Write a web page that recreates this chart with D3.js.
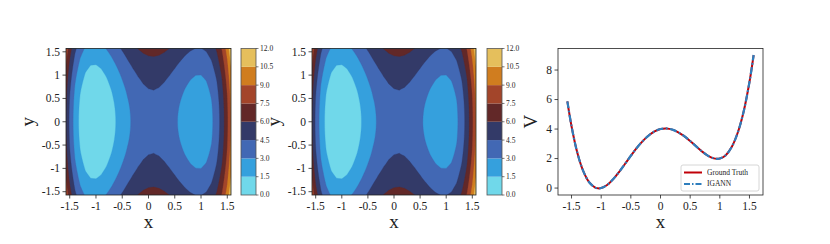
<!DOCTYPE html>
<html>
<head>
<meta charset="utf-8">
<script src="https://cdn.jsdelivr.net/npm/d3@7"></script>
<style>
  body { margin: 0; background: #fff; }
  text { font-family: "Liberation Serif", "DejaVu Serif", serif; fill: #222; }
  .small { opacity: 0.99; }
</style>
</head>
<body>
<svg id="fig" width="830" height="244"></svg>
<script>
// contour field, read as a profile along x plus a profile along y (step 0.1)
var gridX = [-1.6,-1.5,-1.4,-1.3,-1.2,-1.1,-1.0,-0.9,-0.8,-0.7,-0.6,-0.5,-0.4,-0.3,-0.2,-0.1,0,
             0.1,0.2,0.3,0.4,0.5,0.6,0.7,0.8,0.9,1.0,1.1,1.2,1.3,1.4,1.5,1.6]
var vAlongX = [6.70,4.19,2.36,1.13,0.38,0.03,0.00,0.21,0.59,1.08,1.63,2.19,2.72,3.18,3.56,3.84,4.00,
               4.04,3.96,3.78,3.52,3.19,2.83,2.48,2.19,2.01,2.00,2.23,2.78,3.73,5.16,7.19,9.90]
var gridY = gridX
var wAlongY = [2.56,2.25,1.96,1.69,1.44,1.21,1.00,0.81,0.64,0.49,0.36,0.25,0.16,0.09,0.04,0.01,0,
               0.01,0.04,0.09,0.16,0.25,0.36,0.49,0.64,0.81,1.00,1.21,1.44,1.69,1.96,2.25,2.56]

var levels = [0, 1.5, 3, 4.5, 6, 7.5, 9, 10.5, 12]
var levelColors = ["#70d8ea", "#35a0dd", "#4268b4", "#333a68", "#622828", "#a3452a", "#d07d1f", "#e5bf5c"]
var levelLabels = ["0.0", "1.5", "3.0", "4.5", "6.0", "7.5", "9.0", "10.5", "12.0"]

// 1d curve (ground truth and IGANN overlap)
var lineX = [-1.57,-1.5,-1.4,-1.3,-1.2,-1.1,-1.05,-1.0,-0.9,-0.8,-0.7,-0.6,-0.5,-0.4,-0.3,-0.2,-0.1,0,
             0.1,0.2,0.3,0.4,0.5,0.6,0.7,0.8,0.9,0.95,1.0,1.1,1.2,1.3,1.4,1.5,1.57]
var truthV = [5.87,4.19,2.36,1.13,0.38,0.03,-0.02,0.00,0.21,0.59,1.08,1.63,2.19,2.72,3.18,3.56,3.84,4.00,
              4.04,3.96,3.78,3.52,3.19,2.83,2.48,2.19,2.01,1.98,2.00,2.23,2.78,3.73,5.16,7.19,9.01]
var ignnV = [5.88,4.19,2.36,1.13,0.38,0.03,-0.02,0.00,0.21,0.59,1.08,1.63,2.19,2.72,3.18,3.56,3.84,4.00,
             4.04,3.96,3.78,3.52,3.19,2.83,2.48,2.19,2.01,1.98,2.00,2.23,2.78,3.73,5.16,7.19,9.02]

var xTicks = [-1.5, -1, -0.5, 0, 0.5, 1, 1.5]
var xTickLabels = ["-1.5", "-1", "-0.5", "0", "0.5", "1", "1.5"]
var vTicks = [0, 2, 4, 6, 8]
var legendNames = ["Ground Truth", "IGANN"]

var svg = d3.select("#fig")
var top_ = 48.5, bottom_ = 195

function drawFrame(g, x0, x1) {
    g.append("rect").attr("x", x0).attr("y", top_).attr("width", x1 - x0).attr("height", bottom_ - top_)
        .attr("fill", "none").attr("stroke", "#222").attr("stroke-width", 0.8)
}

function drawAxes(g, xs, ys, yTicks, yLabels, x0, xlab, ylab, ylabOffset) {
    var xa = g.append("g")
    xa.selectAll("line").data(xTicks).join("line")
        .attr("x1", d => xs(d)).attr("x2", d => xs(d))
        .attr("y1", bottom_).attr("y2", bottom_ + 3.5)
        .attr("stroke", "#222").attr("stroke-width", 0.8)
    xa.selectAll("text").data(xTicks).join("text")
        .attr("x", d => xs(d)).attr("y", bottom_ + 14.5)
        .attr("text-anchor", "middle").attr("font-size", 11.5)
        .text((d, i) => xTickLabels[i])
    var ya = g.append("g")
    ya.selectAll("line").data(yTicks).join("line")
        .attr("x1", x0 - 3.5).attr("x2", x0)
        .attr("y1", d => ys(d)).attr("y2", d => ys(d))
        .attr("stroke", "#222").attr("stroke-width", 0.8)
    ya.selectAll("text").data(yTicks).join("text")
        .attr("x", x0 - 6).attr("y", d => ys(d)).attr("dy", "0.33em")
        .attr("text-anchor", "end").attr("font-size", 11.5)
        .text((d, i) => yLabels[i])
    g.append("text").attr("x", (xs.range()[0] + xs.range()[1]) / 2).attr("y", 227.5)
        .attr("text-anchor", "middle").attr("font-size", 19).text(xlab)
    g.append("text").attr("transform", "translate(" + (x0 - ylabOffset) + "," + ((top_ + bottom_) / 2) + ") rotate(-90)")
        .attr("text-anchor", "middle").attr("font-size", 19).text(ylab)
}

function contourPanel(id, x0, x1, cb0) {
    var g = svg.append("g")
    var xs = d3.scaleLinear().domain([-Math.PI / 2, Math.PI / 2]).range([x0, x1])
    var ys = d3.scaleLinear().domain([-Math.PI / 2, Math.PI / 2]).range([bottom_, top_])
    var n = gridX.length, m = gridY.length
    var values = new Array(n * m)
    for (var j = 0; j < m; j++)
        for (var i = 0; i < n; i++)
            values[j * n + i] = vAlongX[i] + wAlongY[j]

    // grid index space -> pixels (d3.contours puts sample i at i + 0.5)
    var cx = d3.scaleLinear().domain([0.5, n - 0.5]).range([xs(gridX[0]), xs(gridX[n - 1])])
    var cy = d3.scaleLinear().domain([0.5, m - 0.5]).range([ys(gridY[0]), ys(gridY[m - 1])])
    var path = d3.geoPath(d3.geoTransform({
        point: function (x, y) { this.stream.point(cx(x), cy(y)) }
    }))

    svg.append("clipPath").attr("id", "clip" + id).append("rect")
        .attr("x", x0).attr("y", top_).attr("width", x1 - x0).attr("height", bottom_ - top_)

    var contours = d3.contours().size([n, m]).thresholds(levels.slice(0, -1))(values)
    g.append("g").attr("clip-path", "url(#clip" + id + ")")
        .selectAll("path").data(contours).join("path")
        .attr("d", path)
        .attr("fill", (d, i) => levelColors[i])
        .attr("stroke", (d, i) => levelColors[i]).attr("stroke-width", 0.3)

    drawFrame(g, x0, x1)
    drawAxes(g, xs, ys, xTicks, xTickLabels, x0, "x", "y", 32)

    // colorbar
    var cs = d3.scaleLinear().domain([0, 12]).range([bottom_, top_])
    var cb = svg.append("g")
    cb.selectAll("rect.band").data(levelColors).join("rect").attr("class", "band")
        .attr("x", cb0).attr("width", 15)
        .attr("y", (d, i) => cs(levels[i + 1])).attr("height", (d, i) => cs(levels[i]) - cs(levels[i + 1]))
        .attr("fill", d => d)
    cb.append("rect").attr("x", cb0).attr("y", top_).attr("width", 15).attr("height", bottom_ - top_)
        .attr("fill", "none").attr("stroke", "#555").attr("stroke-width", 0.8)
    cb.selectAll("line").data(levels).join("line")
        .attr("x1", cb0 + 15).attr("x2", cb0 + 17.5)
        .attr("y1", d => cs(d)).attr("y2", d => cs(d))
        .attr("stroke", "#222").attr("stroke-width", 0.6)
    cb.append("g").attr("class", "small")
        .selectAll("text").data(levels).join("text")
        .attr("x", cb0 + 19).attr("y", d => cs(d)).attr("dy", "0.33em")
        .attr("font-size", 7.5).attr("fill", "#333")
        .text((d, i) => levelLabels[i])
}

contourPanel(1, 66, 231, 241)
contourPanel(2, 312, 476, 487)

// line panel
var x0 = 558, x1 = 763
var g3 = svg.append("g")
var xs3 = d3.scaleLinear().domain([-1.728, 1.728]).range([x0, x1])
var ys3 = d3.scaleLinear().domain([-0.47, 9.46]).range([bottom_, top_])
var lineGen = d3.line().x((d, i) => xs3(lineX[i])).y(d => ys3(d)).curve(d3.curveCatmullRom)

g3.append("path").attr("d", lineGen(truthV))
    .attr("fill", "none").attr("stroke", "#c00008").attr("stroke-width", 2)
g3.append("path").attr("d", lineGen(ignnV))
    .attr("fill", "none").attr("stroke", "#2e7ebd").attr("stroke-width", 2.2)
    .attr("stroke-dasharray", "7,2.5,1.8,2.5")

drawFrame(g3, x0, x1)
drawAxes(g3, xs3, ys3, vTicks, vTicks.map(String), x0, "x", "V", 21)

// legend
var lg = g3.append("g")
lg.append("rect").attr("x", 681).attr("y", 165).attr("width", 78).attr("height", 26).attr("rx", 2)
    .attr("fill", "#fff").attr("fill-opacity", 0.8).attr("stroke", "#ccc").attr("stroke-width", 0.8)
var legendStyles = [{ c: "#c00008", dash: null }, { c: "#2e7ebd", dash: "6,2,1.5,2" }]
var lgText = lg.append("g").attr("class", "small")
legendNames.forEach(function (name, i) {
    var y = 172.5 + i * 11.5
    lg.append("line").attr("x1", 684).attr("x2", 702).attr("y1", y).attr("y2", y)
        .attr("stroke", legendStyles[i].c).attr("stroke-width", 2)
        .attr("stroke-dasharray", legendStyles[i].dash)
    lgText.append("text").attr("x", 707).attr("y", y).attr("dy", "0.33em")
        .attr("font-size", 7.5).attr("fill", "#333").text(name)
})
</script>
</body>
</html>
